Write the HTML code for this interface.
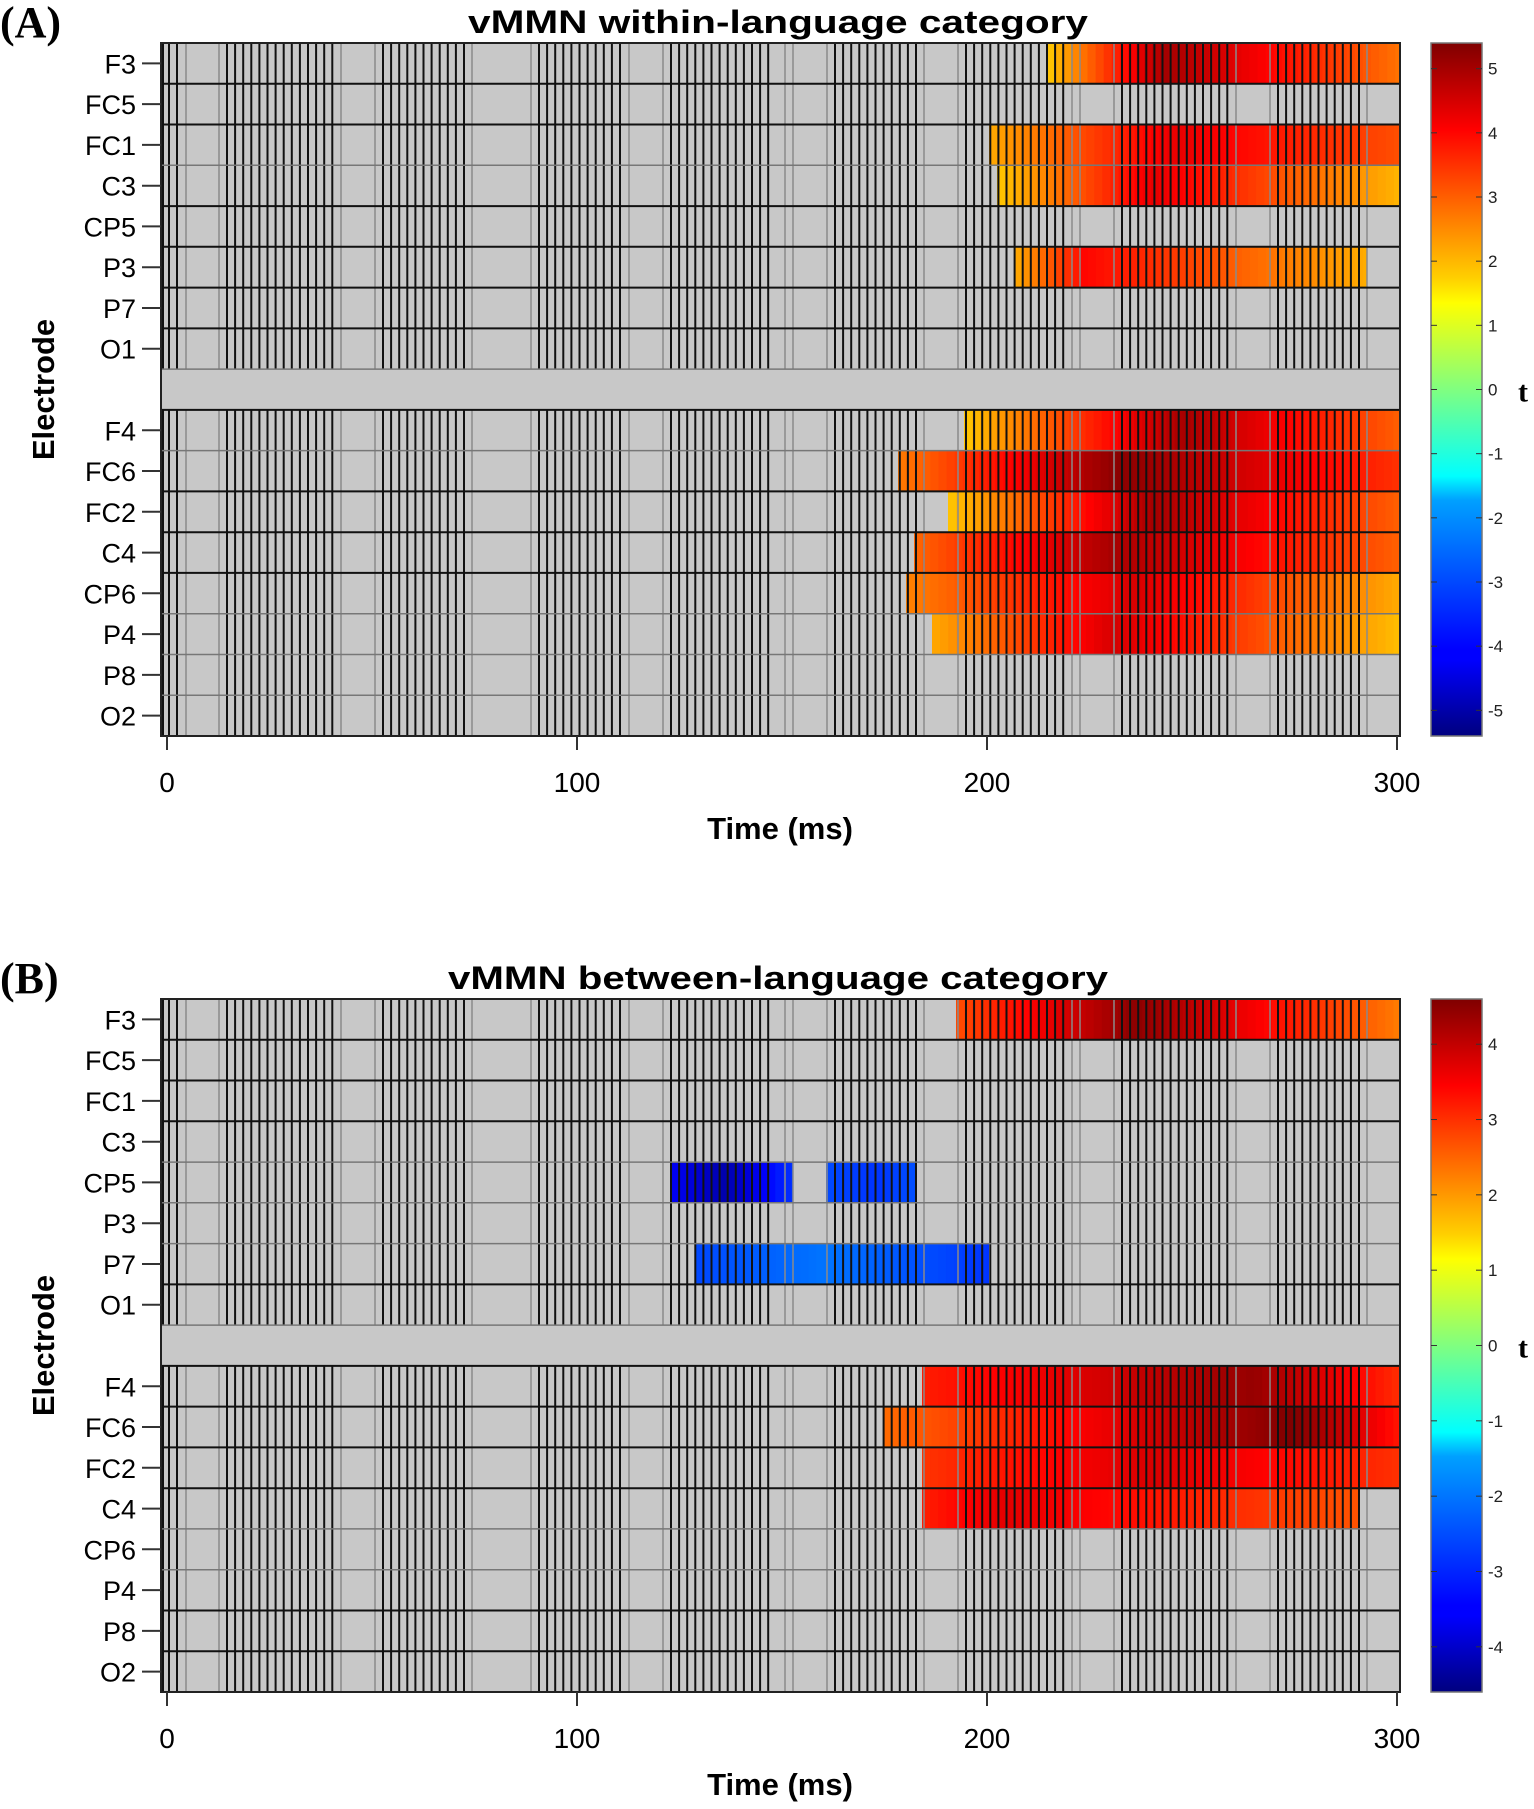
<!DOCTYPE html>
<html><head><meta charset="utf-8"><style>
html,body{margin:0;padding:0;background:#fff;}
svg{display:block;}
text{font-family:"Liberation Sans",sans-serif;}
</style></head><body>
<svg id="s" width="1534" height="1809" xmlns="http://www.w3.org/2000/svg">
<defs>
<linearGradient id="jet" x1="0" y1="1" x2="0" y2="0">
<stop offset="0" stop-color="#00007f"/><stop offset="0.11" stop-color="#0000ff"/><stop offset="0.125" stop-color="#0000ff"/><stop offset="0.34" stop-color="#00a0ff"/><stop offset="0.375" stop-color="#00ffff"/><stop offset="0.5" stop-color="#80ff80"/><stop offset="0.625" stop-color="#ffff00"/><stop offset="0.66" stop-color="#ffd000"/><stop offset="0.875" stop-color="#ff0000"/><stop offset="1" stop-color="#7f0000"/>
</linearGradient>
</defs>
<g id="g"></g>
</svg>
<script>
var g=document.getElementById('g');var h='';
function jet(v){v=Math.max(0,Math.min(1,v));
 function c(x){return Math.round(255*Math.max(0,Math.min(1,x)));}
 var r=c(1.5-Math.abs(4*v-3)),gg=c(1.5-Math.abs(4*v-2)),b=c(1.5-Math.abs(4*v-1));
 return 'rgb('+r+','+gg+','+b+')';}
var L=161,R=1400,names=['F3','FC5','FC1','C3','CP5','P3','P7','O1','','F4','FC6','FC2','C4','CP6','P4','P8','O2'];
var groups=[[[],[163,169,177],[186]],[[219],[227,333],[341]],[[375],[383,464],[472]],[[531],[539,620],[629]],[[663],[671,775],[785,793]],[[827],[835,916],[924]],[[958],[966,1065],[1072,1080]],[[1114],[1122,1229],[1236]],[[1270],[1278,1359],[1367]]];
function panel(o){
 var T=o.top,B=o.bot,rh=(B-T)/17;
 h+='<text x="0" y="'+(o.top-6)+'" font-weight="bold" font-size="44" style="font-family:Liberation Serif,serif">'+o.lab+'</text>';
 h+='<text x="778" y="'+(o.top-10)+'" text-anchor="middle" font-weight="bold" font-size="32" textLength="'+o.tl+'" lengthAdjust="spacingAndGlyphs">'+o.title+'</text>';
 h+='<rect x="'+L+'" y="'+T+'" width="'+(R-L)+'" height="'+(B-T)+'" fill="#c8c8c8"/>';
 o.rows.forEach(function(r){var y=T+r[0]*rh;
  for(var x=r[1];x<r[2];x+=8.1){var v;
   if(x<r[4]) v=r[3]+(r[5]-r[3])*(x-r[1])/Math.max(1,(r[4]-r[1]));
   else v=r[5]+(r[6]-r[5])*(x-r[4])/Math.max(1,(r[2]-r[4]));
   var w=Math.min(8.6,r[2]-x);
   h+='<rect x="'+x.toFixed(1)+'" y="'+y.toFixed(1)+'" width="'+w.toFixed(1)+'" height="'+rh.toFixed(1)+'" fill="'+jet((v+o.vmax)/(2*o.vmax))+'"/>';}
 });
 var segs=[[T,T+8*rh],[T+9*rh,B]];
 groups.forEach(function(gr){var xs=[];
  gr[0].forEach(function(x){xs.push([x,'#8a8a8a',1.5]);});
  gr[2].forEach(function(x){xs.push([x,'#8a8a8a',1.5]);});
  var bl=gr[1];if(bl.length==2){for(var x=bl[0];x<=bl[1]+1;x+=8.1)xs.push([x,'#111',2]);}else bl.forEach(function(x){xs.push([x,'#111',2]);});
  xs.forEach(function(a){segs.forEach(function(s){h+='<line x1="'+a[0].toFixed(1)+'" x2="'+a[0].toFixed(1)+'" y1="'+s[0].toFixed(1)+'" y2="'+s[1].toFixed(1)+'" stroke="'+a[1]+'" stroke-width="'+a[2]+'"/>';});});
 });
 o.hl.forEach(function(k,i){if(k===0)return;var y=T+(i+1)*rh;h+='<line x1="'+L+'" x2="'+R+'" y1="'+y.toFixed(1)+'" y2="'+y.toFixed(1)+'" stroke="'+(k==1?'#111':'#777')+'" stroke-width="'+(k==1?2:1.5)+'"/>';});
 h+='<rect x="'+L+'" y="'+T+'" width="'+(R-L)+'" height="'+(B-T)+'" fill="none" stroke="#222" stroke-width="2"/>';
 names.forEach(function(n,i){if(!n)return;var y=T+(i+0.5)*rh;
  h+='<text x="136" y="'+(y+10).toFixed(1)+'" text-anchor="end" font-size="27">'+n+'</text>';
  h+='<line x1="142" x2="161" y1="'+y.toFixed(1)+'" y2="'+y.toFixed(1)+'" stroke="#333" stroke-width="2"/>';});
 h+='<text transform="translate(54,'+((T+B)/2)+') rotate(-90)" text-anchor="middle" font-weight="bold" font-size="31">Electrode</text>';
 [0,100,200,300].forEach(function(t){var x=167+t*4.1;
  h+='<line x1="'+x+'" x2="'+x+'" y1="'+B+'" y2="'+(B+14)+'" stroke="#333" stroke-width="2"/>';
  h+='<text x="'+x+'" y="'+(B+56)+'" text-anchor="middle" font-size="28">'+t+'</text>';});
 h+='<text x="780" y="'+(B+103)+'" text-anchor="middle" font-weight="bold" font-size="31">Time (ms)</text>';
 h+='<rect x="1431" y="'+T+'" width="51" height="'+(B-T)+'" fill="url(#jet)" stroke="#777" stroke-width="1.5"/>';
 var z=(T+B)/2,pu=(B-T)/2/o.vmax;
 for(var t=-o.tk;t<=o.tk;t++){var y=z-t*pu;
  h+='<line x1="1431" x2="1437" y1="'+y+'" y2="'+y+'" stroke="#333"/><line x1="1476" x2="1482" y1="'+y+'" y2="'+y+'" stroke="#333"/>';
  h+='<text x="1488" y="'+(y+6)+'" font-size="17" fill="#222">'+t+'</text>';}
 h+='<text x="1518" y="'+(z+12)+'" font-weight="bold" font-size="30" style="font-family:Liberation Serif,serif">t</text>';
}
panel({top:43,bot:736,lab:'(A)',title:'vMMN within-language category',tl:620,vmax:5.4,tk:5,
 rows:[[0,1047,1400,2,1160,5,2.8],[2,989,1400,2.3,1170,4.3,3.2],[3,997,1400,2,1150,4.3,2.1],[5,1015,1367,2.3,1080,4,2.2],
 [9,964,1400,2,1180,5,3],[10,898,1400,2.8,1115,5.3,3.5],[11,948,1400,2,1150,5,3],[12,914,1400,3,1110,5,3],[13,906,1400,2.7,1130,4.5,2.2],[14,932,1400,2.3,1110,4.5,2]],
 hl:[1,1,2,1,1,1,1,2,1,2,1,1,1,2,2,2]});
panel({top:999,bot:1692,lab:'(B)',title:'vMMN between-language category',tl:660,vmax:4.6,tk:4,
 rows:[[0,956,1400,2.8,1130,4.5,2.3],[4,670,793,-3.6,720,-4.2,-2.9],[4,826,916,-2.8,870,-3,-2.7],[6,695,989,-2.8,820,-2.4,-3],
 [9,922,1400,3.2,1250,4.4,3],[10,883,1400,2.5,1290,4.6,3.2],[11,922,1400,3,1150,3.8,3],[12,922,1358,3.2,1000,3.7,2.7]],
 hl:[1,1,1,2,2,2,1,2,1,1,1,1,2,2,1,1]});
g.innerHTML=h;
</script>
</body></html>
